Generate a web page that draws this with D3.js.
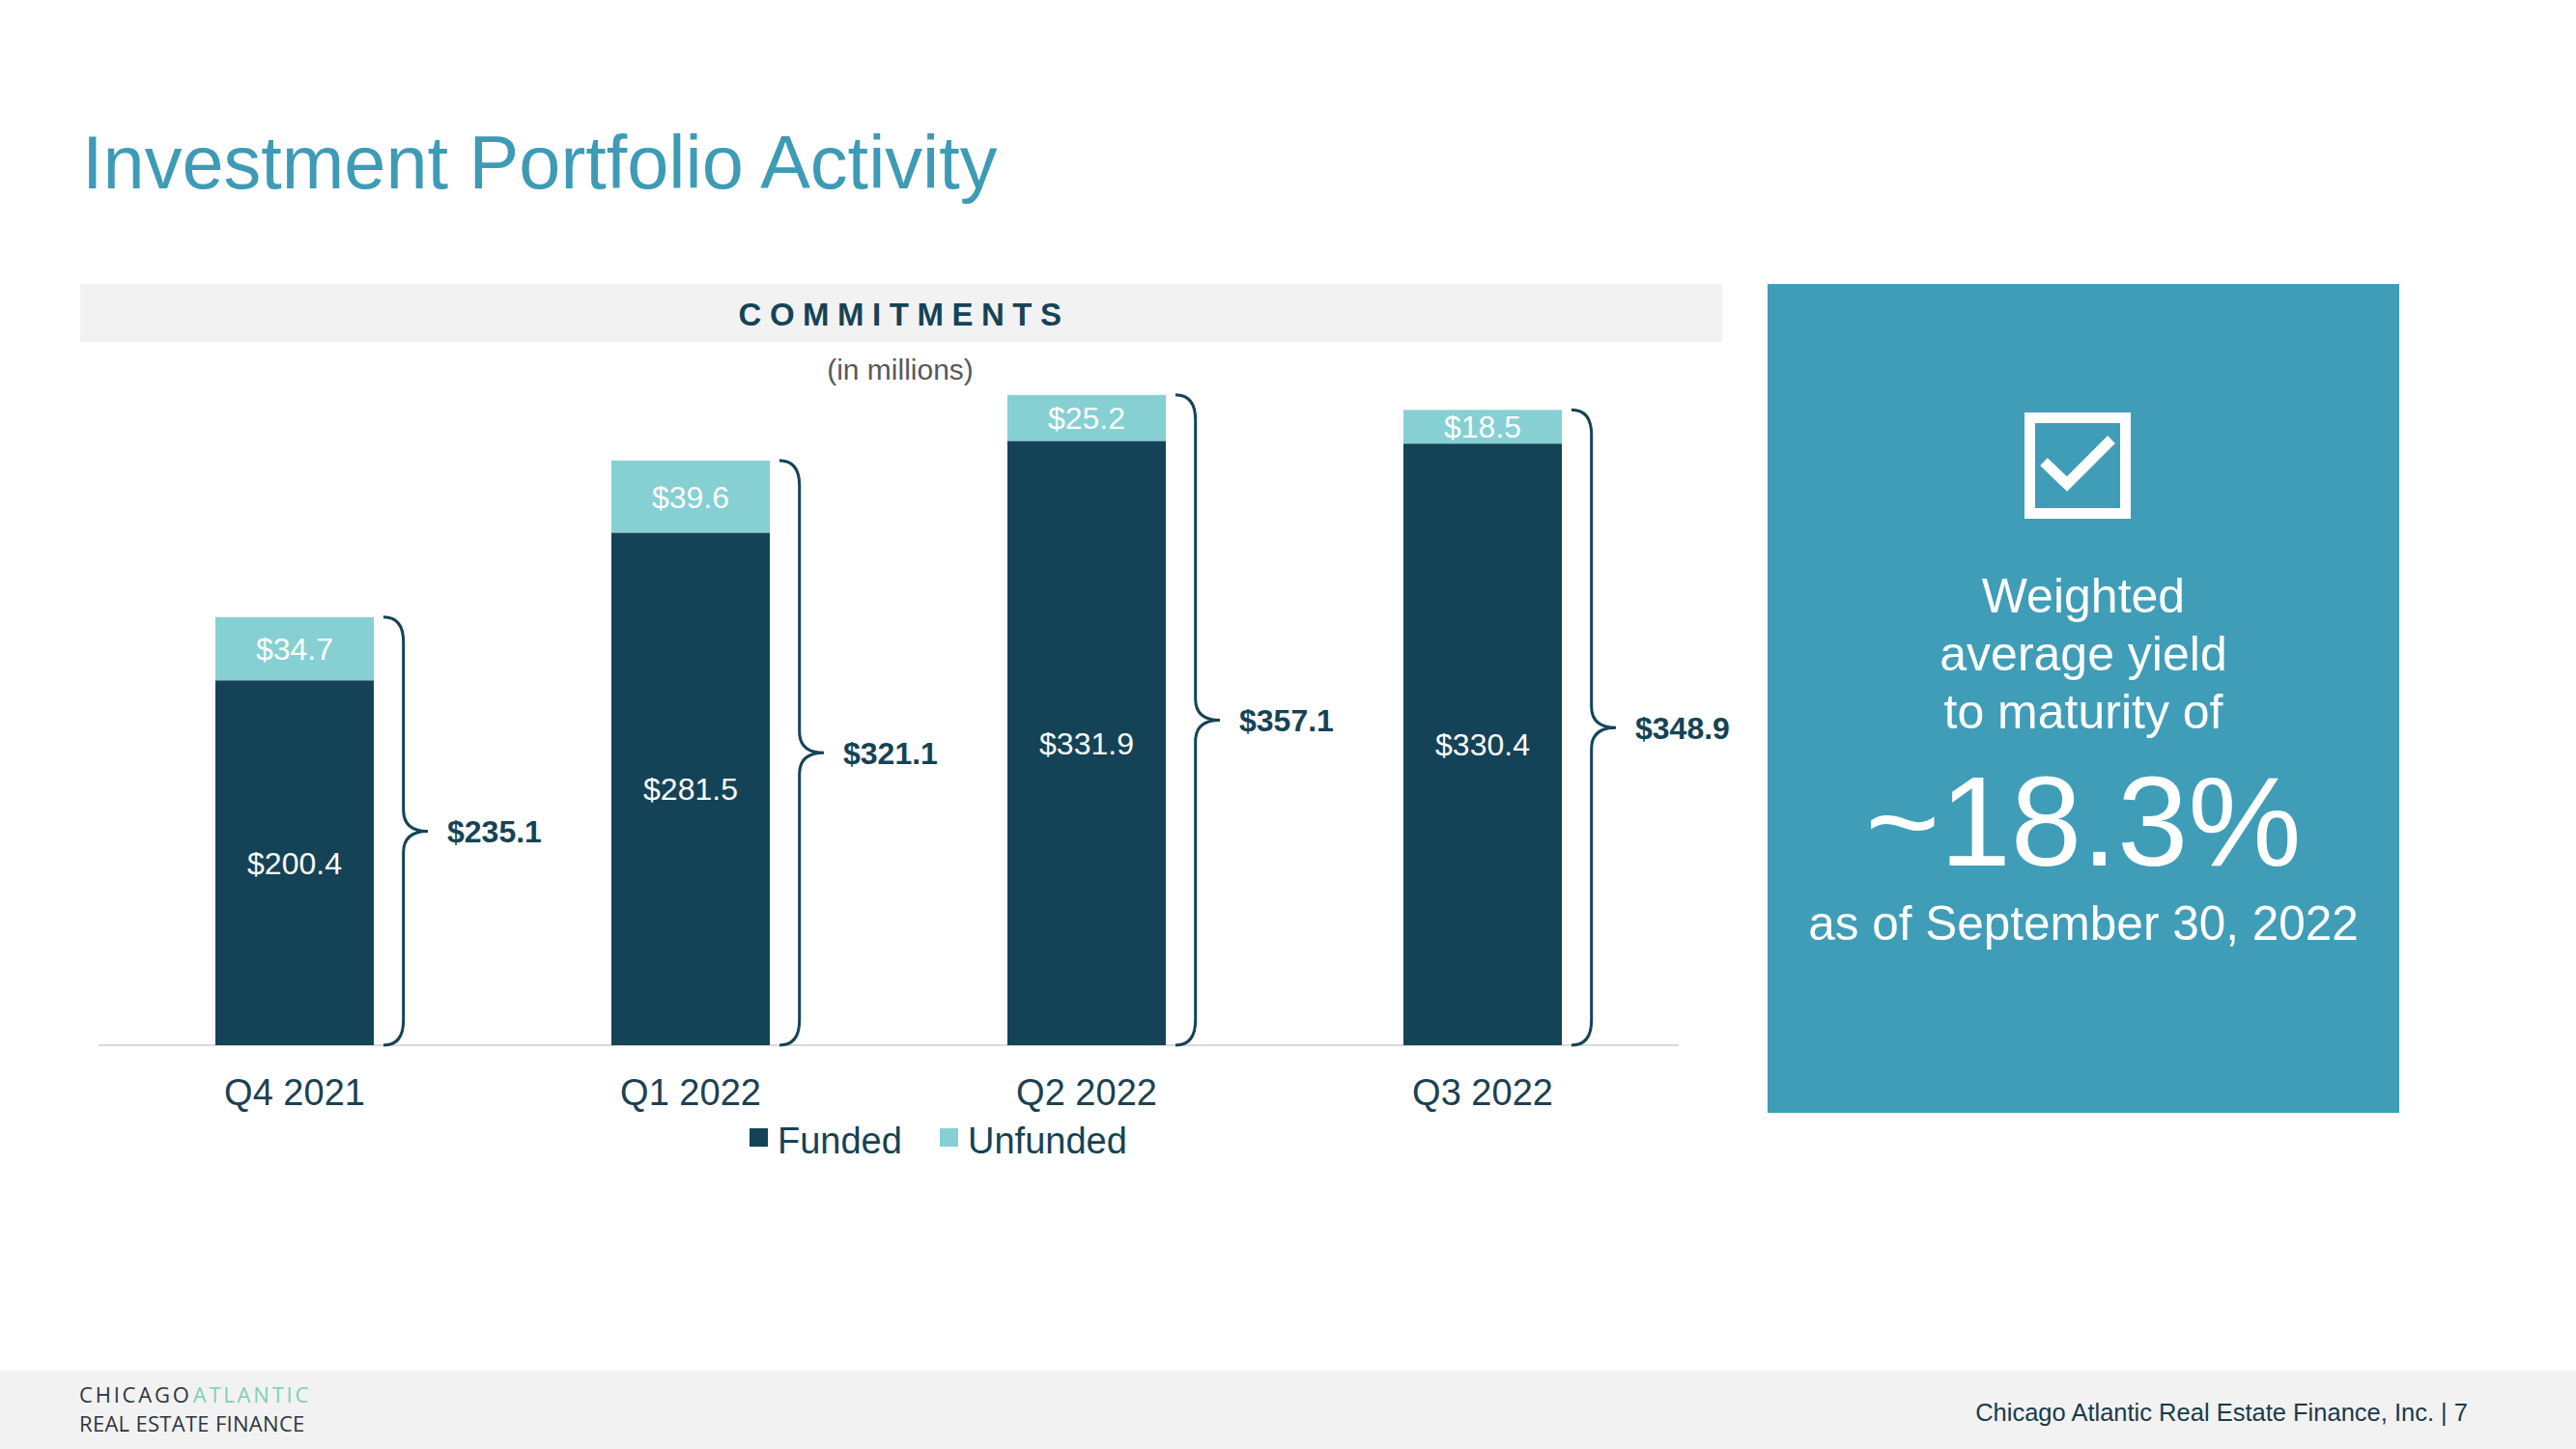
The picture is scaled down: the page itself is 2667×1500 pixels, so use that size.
<!DOCTYPE html>
<html lang="en">
  <head>
    <meta charset="utf-8">
    <title>Investment Portfolio Activity</title>
    <script type="text/javascript" src="https://cdn.jsdelivr.net/npm/d3@7/dist/d3.min.js"></script>
    <style>
      body { margin: 0; background: #fff; }
      text { font-family: "Liberation Sans", Arial, Helvetica, sans-serif; }
    </style>
  </head>
  <body>
    <div class="chart-container"></div>
    <script type="text/javascript">
      // chart data (in millions)
      var quarters = ["Q4 2021", "Q1 2022", "Q2 2022", "Q3 2022"];
      var funded   = [200.4, 281.5, 331.9, 330.4];
      var unfunded = [34.7, 39.6, 25.2, 18.5];
      var totals   = [235.1, 321.1, 357.1, 348.9];
      var seriesNames = ["Funded", "Unfunded"];

      var svgW = 2667;
      var svgH = 1500;

      var colors = {
        FUNDED: "#144357",
        UNFUNDED: "#86d0d3",
        TITLE: "#3e9bb6",
        PANEL: "#409db8",
        DARK: "#154355",
        BAND: "#f2f2f2"
      };

      var svg = d3.select(".chart-container")
        .append("svg")
        .attr("width", svgW)
        .attr("height", svgH);

      svg.append("rect")
        .attr("width", svgW).attr("height", svgH)
        .attr("fill", "#fff");

      // title
      svg.append("text")
        .attr("x", 85).attr("y", 195)
        .attr("font-size", 77.5)
        .attr("fill", colors.TITLE)
        .text("Investment Portfolio Activity");

      // commitments header band
      svg.append("rect")
        .attr("x", 83).attr("y", 294)
        .attr("width", 1700).attr("height", 60)
        .attr("fill", colors.BAND);
      svg.append("text")
        .attr("x", 936).attr("y", 337)
        .attr("text-anchor", "middle")
        .attr("font-size", 33)
        .attr("font-weight", "bold")
        .attr("letter-spacing", 8.5)
        .attr("fill", colors.DARK)
        .text("COMMITMENTS");
      svg.append("text")
        .attr("x", 932).attr("y", 393)
        .attr("text-anchor", "middle")
        .attr("font-size", 30)
        .attr("fill", "#595959")
        .text("(in millions)");

      // scales
      var x = d3.scaleBand()
        .domain(quarters)
        .range([100, 1740])
        .paddingInner(0.6)
        .paddingOuter(0.3);

      var y = d3.scaleLinear()
        .domain([0, 400])
        .range([1082, 328]);

      var rows = quarters.map(function (q, i) {
        return { q: q, Funded: funded[i], Unfunded: unfunded[i], total: totals[i] };
      });
      var stack = d3.stack().keys(seriesNames)(rows);
      var fill = d3.scaleOrdinal().domain(seriesNames).range([colors.FUNDED, colors.UNFUNDED]);

      // baseline
      svg.append("line")
        .attr("x1", 102).attr("x2", 1738)
        .attr("y1", y(0)).attr("y2", y(0))
        .attr("stroke", "#d9d9d9").attr("stroke-width", 2);

      var layers = svg.selectAll("g.layer")
        .data(stack)
        .enter().append("g")
        .attr("class", "layer")
        .attr("fill", function (d) { return fill(d.key); });

      layers.selectAll("rect")
        .data(function (d) { return d; })
        .enter().append("rect")
        .attr("x", function (d) { return x(d.data.q); })
        .attr("width", x.bandwidth())
        .attr("y", function (d) { return y(d[1]); })
        .attr("height", function (d) { return y(d[0]) - y(d[1]); });

      // segment labels
      layers.selectAll("text")
        .data(function (d) { return d.map(function (v) { return { v: v, key: d.key }; }); })
        .enter().append("text")
        .attr("x", function (d) { return x(d.v.data.q) + x.bandwidth() / 2; })
        .attr("y", function (d) { return (y(d.v[0]) + y(d.v[1])) / 2; })
        .attr("dy", "0.36em")
        .attr("text-anchor", "middle")
        .attr("font-size", 32)
        .attr("fill", "#ffffff")
        .text(function (d) { return "$" + d.v.data[d.key].toFixed(1); });

      // braces with totals
      function bracePath(x0, yTop, yBot, w) {
        var x1 = x0 + w * 0.45;
        var x2 = x0 + w;
        var yMid = (yTop + yBot) / 2;
        var r = 26;
        var r2 = 22;
        return "M" + x0 + "," + yTop +
          "Q" + x1 + "," + yTop + " " + x1 + "," + (yTop + r) +
          "L" + x1 + "," + (yMid - r2) +
          "Q" + x1 + "," + yMid + " " + x2 + "," + yMid +
          "Q" + x1 + "," + yMid + " " + x1 + "," + (yMid + r2) +
          "L" + x1 + "," + (yBot - r) +
          "Q" + x1 + "," + yBot + " " + x0 + "," + yBot;
      }

      var braceW = 46;
      var braces = svg.selectAll("g.brace")
        .data(rows)
        .enter().append("g")
        .attr("class", "brace");

      braces.append("path")
        .attr("d", function (d) {
          return bracePath(x(d.q) + x.bandwidth() + 10, y(d.total), y(0), braceW);
        })
        .attr("fill", "none")
        .attr("stroke", colors.DARK)
        .attr("stroke-width", 3);

      braces.append("text")
        .attr("x", function (d) { return x(d.q) + x.bandwidth() + 10 + braceW + 20; })
        .attr("y", function (d) { return (y(d.total) + y(0)) / 2; })
        .attr("dy", "0.36em")
        .attr("font-size", 32)
        .attr("font-weight", "bold")
        .attr("fill", colors.DARK)
        .text(function (d) { return "$" + d.total.toFixed(1); });

      // category axis
      var xAxis = svg.append("g")
        .attr("transform", "translate(0," + y(0) + ")")
        .call(d3.axisBottom(x).tickSize(0).tickPadding(35));
      xAxis.select(".domain").remove();
      xAxis.selectAll("text")
        .attr("font-size", 38)
        .attr("font-family", "Liberation Sans, Arial, sans-serif")
        .attr("fill", "#1b4152");

      // legend
      var legendX = [776, 973];
      var legend = svg.selectAll("g.legend")
        .data(seriesNames)
        .enter().append("g")
        .attr("class", "legend")
        .attr("transform", function (d, i) { return "translate(" + legendX[i] + ",1168)"; });
      legend.append("rect")
        .attr("width", 19).attr("height", 19)
        .attr("fill", function (d) { return fill(d); });
      legend.append("text")
        .attr("x", 29).attr("y", 26)
        .attr("font-size", 38)
        .attr("fill", colors.DARK)
        .text(function (d) { return d; });

      // right-hand highlight panel
      var panel = svg.append("g");
      panel.append("rect")
        .attr("x", 1830).attr("y", 294)
        .attr("width", 654).attr("height", 858)
        .attr("fill", colors.PANEL);
      panel.append("rect")
        .attr("x", 2101.5).attr("y", 432.5)
        .attr("width", 99).attr("height", 99)
        .attr("fill", "none")
        .attr("stroke", "#fff")
        .attr("stroke-width", 11);
      panel.append("path")
        .attr("d", "M2116,478 L2140,501 L2186,455")
        .attr("fill", "none")
        .attr("stroke", "#fff")
        .attr("stroke-width", 11);

      var panelCx = 2157;
      var panelLines = [
        { t: "Weighted", y: 634, s: 50 },
        { t: "average yield", y: 694, s: 50 },
        { t: "to maturity of", y: 754, s: 50 },
        { t: "~18.3%", y: 896, s: 132 },
        { t: "as of September 30, 2022", y: 973, s: 49.5 }
      ];
      panel.selectAll("text.pl")
        .data(panelLines)
        .enter().append("text")
        .attr("class", "pl")
        .attr("x", panelCx)
        .attr("y", function (d) { return d.y; })
        .attr("text-anchor", "middle")
        .attr("font-size", function (d) { return d.s; })
        .attr("fill", "#fff")
        .text(function (d) { return d.t; });

      // footer
      svg.append("rect")
        .attr("x", 0).attr("y", 1419)
        .attr("width", svgW).attr("height", 81)
        .attr("fill", colors.BAND);
      var logoFont = "'Open Sans', 'Noto Sans', sans-serif";
      var logo1 = svg.append("text")
        .attr("x", 82).attr("y", 1452)
        .attr("font-size", 22)
        .attr("letter-spacing", 2.8)
        .style("font-family", logoFont)
        .attr("fill", "#2d3440")
        .text("CHICAGO");
      var logoW = logo1.node().getComputedTextLength();
      svg.append("text")
        .attr("x", 82 + logoW + 1).attr("y", 1452)
        .attr("font-size", 22)
        .attr("letter-spacing", 2.8)
        .style("font-family", logoFont)
        .attr("fill", "#80d0b0")
        .text("ATLANTIC");
      svg.append("text")
        .attr("x", 82).attr("y", 1482)
        .attr("font-size", 22)
        .attr("letter-spacing", 0.3)
        .style("font-family", logoFont)
        .attr("fill", "#2d3440")
        .text("REAL ESTATE FINANCE");
      svg.append("text")
        .attr("x", 2555).attr("y", 1471)
        .attr("text-anchor", "end")
        .attr("font-size", 25.5)
        .attr("fill", "#1b3a4b")
        .text("Chicago Atlantic Real Estate Finance, Inc. |  7");
    </script>
  </body>
</html>
